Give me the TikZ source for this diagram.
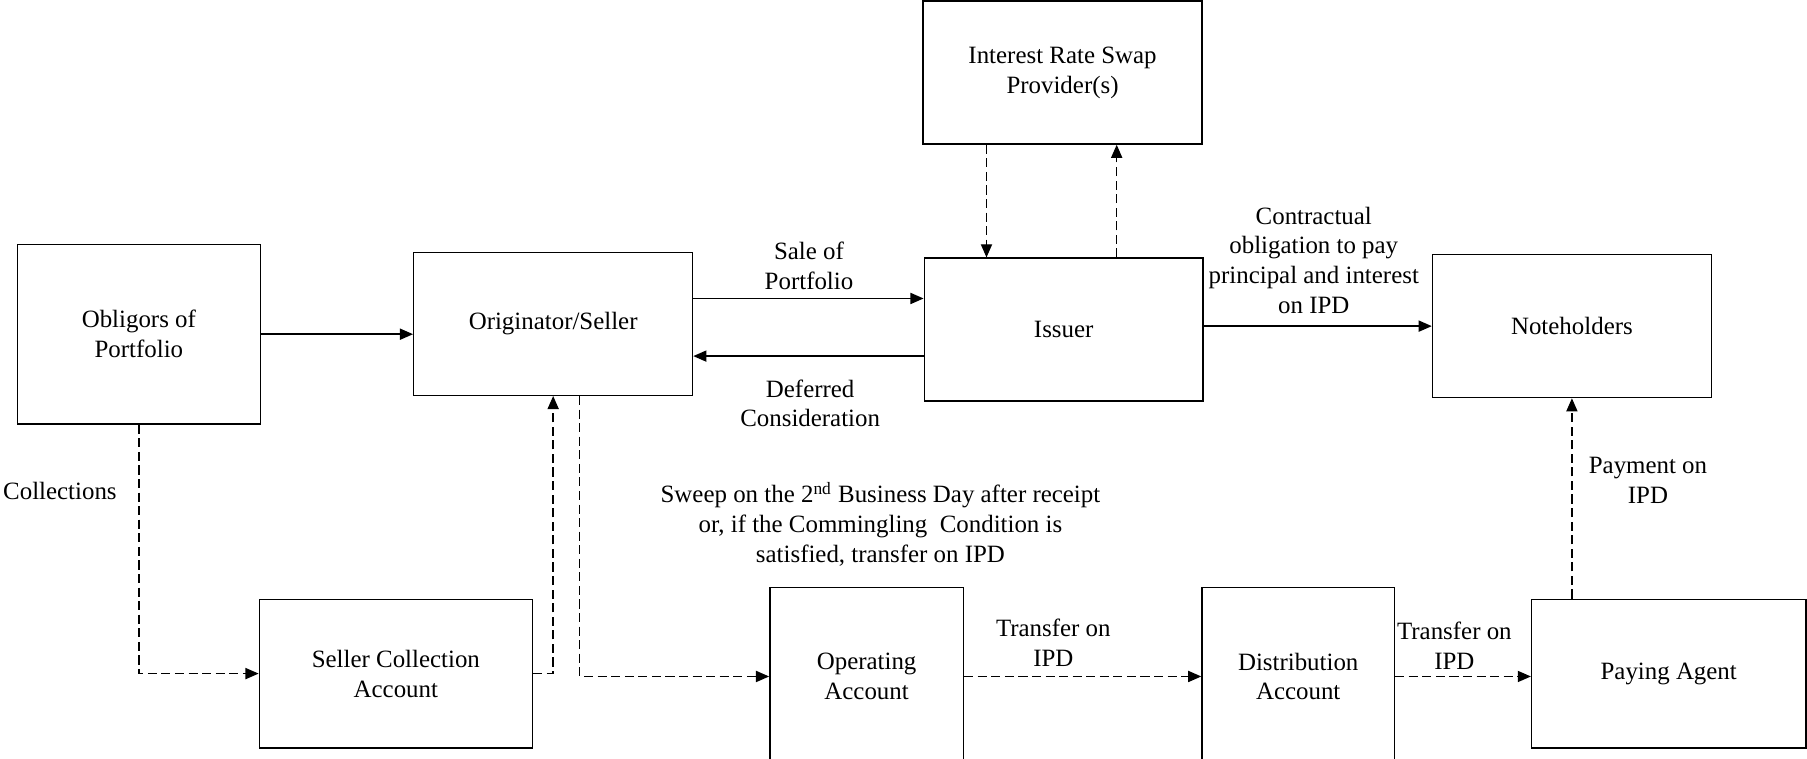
\documentclass[tikz,border=0pt]{standalone}
\usepackage{fontspec}
\setmainfont{Liberation Serif}
\usetikzlibrary{arrows.meta}

\begin{document}
\begin{tikzpicture}[x=0.02cm, y=-0.02cm, line width=0.7pt, >={Triangle[length=6.5pt,width=5.5pt]},
    blk/.style = {draw, align=center, font=\fontsize{12.3}{14.8}\selectfont, inner sep=2pt},
    lbl/.style = {align=center, font=\fontsize{12.3}{14.8}\selectfont, inner sep=1pt},
    flow/.style = {->, dash pattern=on 4.5pt off 2.2pt}]
    \useasboundingbox (0,0) rectangle (1568,658);

    \node at (120.5, 290) [blk, minimum width = 4.22cm, minimum height = 3.12cm] (obl) {Obligors of\\Portfolio};
    \node at (480, 281) [blk, minimum width = 4.84cm, minimum height = 2.48cm] (orig) {Originator/Seller};
    \node at (922, 63) [blk, minimum width = 4.84cm, minimum height = 2.48cm] (irs) {Interest Rate Swap\\Provider(s)};
    \node at (923, 286) [blk, minimum width = 4.84cm, minimum height = 2.48cm] (iss) {Issuer};
    \node at (1364, 283) [blk, minimum width = 4.84cm, minimum height = 2.48cm] (note) {Noteholders};

    \node at (343.5, 584.5) [blk, minimum width = 4.74cm, minimum height = 2.58cm] (sca) {Seller Collection\\Account};
    \node at (752, 587) [blk, minimum width = 3.36cm, minimum height = 3.08cm] (op) {Operating\\Account};
    \node at (1126.5, 587) [blk, minimum width = 3.34cm, minimum height = 3.08cm] (dist) {Distribution\\Account};
    \node at (1448, 584.5) [blk, minimum width = 4.76cm, minimum height = 2.58cm] (pa) {Paying Agent};

    %Sale and deferred consideration
    \draw[->] (obl.east) -- (obl.east -| orig.west);
    \draw[->] ([yshift=0.44cm]orig.east) -- ([yshift=0.44cm]orig.east -| iss.west);
    \draw[->] ([yshift=-0.46cm]iss.west) -- ([yshift=-0.46cm]iss.west -| orig.east);
    \node at (702, 231) [lbl] (sale) {Sale of\\Portfolio};
    \node at (703, 350) [lbl] (defc) {Deferred\\Consideration};

    %Swap
    \draw[flow] ([xshift=-1.32cm]irs.south) -- ([xshift=-1.32cm]irs.south |- iss.north);
    \draw[flow] ([xshift=0.92cm]iss.north) -- ([xshift=0.92cm]iss.north |- irs.south);

    %Notes
    \draw[->] (note.west -| iss.east) -- (note.west);
    \node at (1140, 226) [lbl] (oblig) {Contractual\\obligation to pay\\principal and interest\\on IPD};

    %Collections
    \draw[flow] (obl.south) |- (sca.west);
    \node at (52, 426) [lbl] (coll) {Collections};
    \draw[flow] (sca.east) -| (orig.south);
    \draw[flow] ([xshift=0.46cm]orig.south) |- (op.west);
    \node at (764, 455) [lbl] (sweep) {Sweep on the 2\textsuperscript{nd} Business Day after receipt\\or, if the Commingling~ Condition is\\satisfied, transfer on IPD};

    %Payments
    \draw[flow] (op.east) -- (dist.west);
    \node at (914, 558) [lbl] (tr1) {Transfer on\\IPD};
    \draw[flow] (dist.east) -- (dist.east -| pa.west);
    \node at (1262, 560) [lbl] (tr2) {Transfer on\\IPD};
    \draw[flow] (pa.north -| note.south) -- (note.south);
    \node at (1430, 417) [lbl] (pay) {Payment on\\IPD};
\end{tikzpicture}
\end{document}
